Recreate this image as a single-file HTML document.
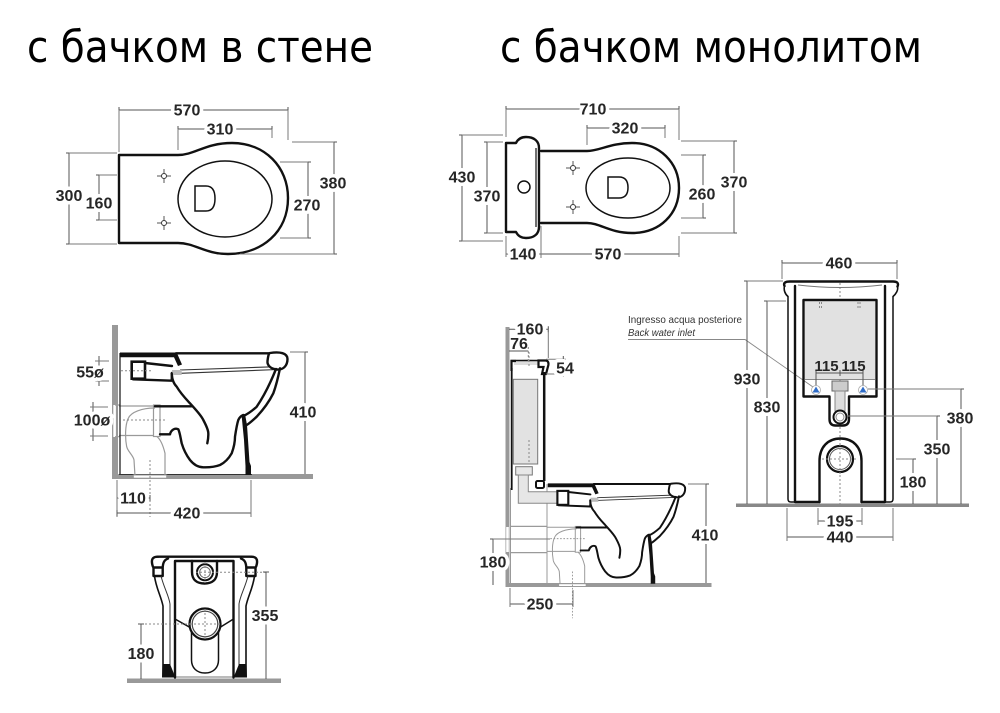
<!DOCTYPE html>
<html><head><meta charset="utf-8">
<style>
html,body{margin:0;padding:0;background:#fff;}
svg{display:block}
.t{font-family:"Liberation Sans",Arial,sans-serif;font-weight:bold;font-size:16px;fill:#262626;text-anchor:middle;paint-order:stroke;stroke:#fff;stroke-width:7px;stroke-linejoin:round}
.tn{font-family:"Liberation Sans",Arial,sans-serif;font-weight:bold;font-size:16px;fill:#262626;text-anchor:middle}
.d{stroke:#555;stroke-width:1;fill:none}
.e{stroke:#7a7a7a;stroke-width:1;fill:none}
.k{stroke:#111;stroke-width:2.4;fill:none;stroke-linejoin:round;stroke-linecap:round}
.g{stroke:#9a9a9a;stroke-width:1.2;fill:none}
.dot{stroke:#888;stroke-width:1;stroke-dasharray:2 2;fill:none}
.ttl{font-family:"DejaVu Sans","Liberation Sans",sans-serif;font-size:44px;fill:#000}
</style></head><body>
<svg width="1000" height="713" viewBox="0 0 1000 713" xmlns="http://www.w3.org/2000/svg">
<rect width="1000" height="713" fill="#fff"/>

<!-- Titles -->
<text class="ttl" x="27" y="62" textLength="346" lengthAdjust="spacingAndGlyphs">с бачком в стене</text>
<text class="ttl" x="500" y="62" textLength="422" lengthAdjust="spacingAndGlyphs">с бачком монолитом</text>

<!-- ============ TOP-LEFT PLAN ============ -->
<path class="k" stroke-width="2.6" d="M119,155 L178,155 C195,155 205,143 232,143 C265,143 288,167 288,198 C288,232 262,254 228,254 C205,254 195,243 178,243 L119,243 Z"/>
<ellipse cx="225" cy="199" rx="47" ry="38" fill="none" stroke="#111" stroke-width="1.5"/>
<path d="M195,186 L206,186 Q215,186 215,198.5 Q215,211 206,211 L195,211 Z" fill="none" stroke="#111" stroke-width="1.5"/>
<circle cx="164" cy="176" r="2.5" fill="none" stroke="#333" stroke-width="1"/>
<circle cx="164" cy="223" r="2.5" fill="none" stroke="#333" stroke-width="1"/>
<path class="d" d="M157,176h4M167,176h4M164,169v4M164,179v4M157,223h4M167,223h4M164,216v4M164,226v4"/>
<path class="d" d="M119,110H288M119,107v6M288,107v6"/>
<path class="e" d="M119,110V152M288,110V140"/>
<text class="t" x="187" y="115.5">570</text>
<path class="d" d="M178,129H272M178,126v6M272,126v6"/>
<path class="e" d="M178,129V150M272,129V138"/>
<text class="t" x="220" y="134.5">310</text>
<path class="d" d="M69,153V244M66,153h6M66,244h6"/>
<path class="e" d="M69,153H117M69,244H117"/>
<text class="t" x="69" y="201">300</text>
<path class="d" d="M99,175V220M96,175h6M96,220h6"/>
<path class="e" d="M99,175H117M99,220H117"/>
<text class="t" x="99" y="208.5">160</text>
<path class="d" d="M308,162V238M305,162h6M305,238h6"/>
<path class="e" d="M280,162H308M280,238H308"/>
<text class="t" x="307" y="210.5">270</text>
<path class="d" d="M334,142V254M331,142h6M331,254h6"/>
<path class="e" d="M292,142H334M240,254H334"/>
<text class="t" x="333" y="188.5">380</text>

<!-- ============ TOP-RIGHT PLAN ============ -->
<path class="k" stroke-width="2.6" d="M506,143 L516,143 C518,139 521,137 526,137 C534,137 539,141 539,148 L539,227 C539,234 534,238 526,238 C521,238 518,236 516,232 L506,232 Z"/>
<path d="M536,148V227" stroke="#111" stroke-width="1.2"/>
<circle cx="524" cy="187" r="6" fill="none" stroke="#111" stroke-width="1.5"/>
<path class="k" stroke-width="2.6" d="M541,151 L587,151 C600,151 610,143 632,143 C660,143 679,163 679,188 C679,214 660,233 632,233 C610,233 600,223 587,223 L541,223"/>
<ellipse cx="628" cy="188" rx="42" ry="30" fill="none" stroke="#111" stroke-width="1.5"/>
<path d="M608,177 L619,177 Q628,177 628,187.5 Q628,198 619,198 L608,198 Z" fill="none" stroke="#111" stroke-width="1.5"/>
<circle cx="573" cy="168" r="2.5" fill="none" stroke="#333" stroke-width="1"/>
<circle cx="573" cy="207" r="2.5" fill="none" stroke="#333" stroke-width="1"/>
<path class="d" d="M566,168h4M576,168h4M573,161v4M573,171v4M566,207h4M576,207h4M573,200v4M573,210v4"/>
<path class="d" d="M506,109H679M506,106v6M679,106v6"/>
<path class="e" d="M506,109V137M679,109V140"/>
<text class="t" x="593" y="114.5">710</text>
<path class="d" d="M587,128H665M587,125v6M665,125v6"/>
<path class="e" d="M587,128V145M665,128V138"/>
<text class="t" x="625" y="133.5">320</text>
<path class="d" d="M462,135V241M459,135h6M459,241h6"/>
<path class="e" d="M462,135H503M462,241H503"/>
<text class="t" x="462" y="182.5">430</text>
<path class="d" d="M487,142V233M484,142h6M484,233h6"/>
<path class="e" d="M487,142H503M487,233H503"/>
<text class="t" x="487" y="201.5">370</text>
<path class="d" d="M703,155V218M700,155h6M700,218h6"/>
<path class="e" d="M681,155H703M681,218H703"/>
<text class="t" x="702" y="199.5">260</text>
<path class="d" d="M734,141V233M731,141h6M731,233h6"/>
<path class="e" d="M681,141H734M681,233H734"/>
<text class="t" x="734" y="187.5">370</text>
<path class="d" d="M506,254H679M506,251v6M541,251v6M679,251v6"/>
<path class="e" d="M506,236V257M541,226V258M679,236V257"/>
<text class="t" x="523" y="259.5">140</text>
<text class="t" x="608" y="259.5">570</text>

<!-- ============ LEFT SIDE VIEW ============ -->
<rect x="112" y="325" width="6" height="154" fill="#999"/>
<rect x="112" y="474" width="201" height="5" fill="#999"/>
<rect x="113.3" y="405" width="2.6" height="32" fill="#fff"/>
<path class="g" d="M115,405H120M115,436.7H120"/>
<path d="M119,474.5H252" stroke="#333" stroke-width="1"/>

<g>
 <path class="g" d="M119,406H155M119,435.5H155"/>
 <rect x="153.5" y="405" width="6.5" height="31.5" fill="#fff" stroke="#999" stroke-width="1.2"/>
 <path class="g" d="M155,408C142,408 131,412 128.3,418.3C125,425 125,438 126.7,446.7C128,452 133,455 134,460L135,476"/>
 <path class="g" d="M157,436.7C160,439 163,445 165,453.3L165,476"/>
 <rect x="133.3" y="475" width="33.4" height="3.2" fill="#fff" stroke="#999" stroke-width="1"/>
 <path class="dot" d="M150,460V517M123,420H166"/>
 <path d="M120,353V474" stroke="#222" stroke-width="1.3"/>
 <path d="M120,352.5H176.7L182,364.5L178,366L174,357.3H120Z" fill="#111"/>
 <path class="k" d="M176,353.3H280"/>
 <rect x="131.7" y="361.7" width="13.3" height="17" fill="#fff" stroke="#111" stroke-width="2.6"/>
 <path class="k" d="M145,363L172,366M133,379.3L171.7,380.7L172,373"/>
 <path class="dot" d="M121,370.7H152"/>
 <path d="M180,370L276.7,366.7M180,373.3L278,369.5" stroke="#333" stroke-width="1.1" fill="none"/>
 <path d="M172,370H181.7V375H172Z" fill="#bbb"/>
 <path d="M270,353C280,351.5 287.5,353 287.5,359C287.5,366 283,370 277,369.5C271,369 267,365.5 267.5,361C268,357 268.5,353.5 270,353Z" fill="#fff" stroke="#111" stroke-width="2.4"/>
 <path class="k" stroke-width="3" d="M171.7,373.3C172,380 174,384 176.7,386.7C181,394 186,399 190,403.3C196,410 201,415 203.3,420C206.5,426 208.3,430 208.3,433.3C208.5,437 208,440 207.3,443.3"/>
 <path class="k" stroke-width="2.8" d="M155,406.3H191.7"/>
 <path class="k" stroke-width="2.8" d="M160,434.3H170C171,430 175,427.5 178.3,429.3C180,433 180.5,438 181.7,443.3C184,451 187,456 190,460C194,465 198,467.3 203.3,467.3C210,467.5 216,466.5 220,465C226,462 229,458 231.7,453.3C234,447 235,442 235,436.7C236,430 237,424 238.3,420C239.5,417 241,416 243.3,415"/>
 <path class="k" stroke-width="2.2" d="M280,368.3C278,378 276,386 273.3,393.3C268,404 262,411 256.7,416.7C253,420 250,423 246.7,425"/>
 <path class="k" stroke-width="1.8" d="M276,369C270,384 264,396 256.7,406.7C252,411 248,414 243.3,416"/>
 <path d="M241.5,414.5L245,414L247,425L249.5,462L251,466V475H245.5V466L244,440Z" fill="#111"/>
</g>

<path class="d" d="M305,352V474M302,352h6"/>
<path class="e" d="M290,352H305"/>
<text class="t" x="303" y="417.5">410</text>
<path class="d" d="M99,356V386M96,361h6M96,381h6"/>
<path class="e" d="M95,361H109M95,381H109"/>
<text class="t" x="90" y="377.5">55ø</text>
<path class="d" d="M93,402V441M90,407h6M90,436h6"/>
<path class="e" d="M90,407H108M90,436H108"/>
<text class="t" x="92" y="425.5">100ø</text>
<path class="d" d="M117,498H150M117,495v6M150,495v6"/>
<path class="e" d="M117,480V517"/>
<text class="t" x="133" y="503.5">110</text>
<path class="d" d="M117,513H251M117,510v6M251,510v6"/>
<path class="e" d="M251,480V517"/>
<text class="t" x="187" y="518.5">420</text>

<!-- ============ FRONT VIEW (lower-left) ============ -->
<rect x="127" y="678.5" width="154" height="4.5" fill="#999"/>
<path d="M175,677H233.5" stroke="#777" stroke-width="1"/>
<path class="k" stroke-width="2" d="M158,556.7H251"/>
<path class="k" stroke-width="2" d="M158,556.7C153,556.7 151.5,559 152,563C152.5,566 153,567 153.5,567.5H162.7V576H153.5V567.5M162.7,567.5C163,563 164,560 168,558.5"/>
<path class="k" stroke-width="2" d="M251,556.7C256,556.7 257.5,559 257,563C256.5,566 256,567 255.5,567.5H246.3V576H255.5V567.5M246.3,567.5C246,563 245,560 241,558.5"/>
<path fill="none" stroke="#111" stroke-width="1.6" d="M154.5,576C156,588 161,596 163,606L163,677"/>
<path fill="none" stroke="#333" stroke-width="1" d="M161,576C164,588 169,596 170,604L170,665"/>
<path fill="none" stroke="#111" stroke-width="1.6" d="M254.5,576C253,588 248,596 246,606L246,677"/>
<path fill="none" stroke="#333" stroke-width="1" d="M248,576C245,588 240,596 239,604L239,665"/>
<path d="M162.5,664L170,664L175.5,677.5L162,677.5Z" fill="#111"/>
<path d="M246.5,664L239,664L233.5,677.5L247,677.5Z" fill="#111"/>
<path class="k" d="M175,561V677.5M233.5,561V677.5M175,561H233.5"/>
<path class="k" stroke-width="2" d="M192,561V572C192,580 197,583.5 204.5,583.5C212,583.5 217,580 217,572V561"/>
<circle cx="205" cy="572.3" r="8" fill="none" stroke="#111" stroke-width="2"/>
<circle cx="205" cy="572.3" r="5.3" fill="none" stroke="#666" stroke-width="1"/>
<path fill="none" stroke="#111" stroke-width="1.5" d="M191.5,630V660C191.5,668 197,673 205,673C213,673 218.5,668 218.5,660V630"/>
<path fill="none" stroke="#111" stroke-width="1.5" d="M175,619L191,628M233.5,619L219,628"/>
<circle cx="205" cy="624" r="15.5" fill="#fff" stroke="#111" stroke-width="2.2"/>
<circle cx="205" cy="624" r="12.8" fill="none" stroke="#444" stroke-width="1.2"/>
<path class="dot" d="M190,624H220M205,609V640M205,562V583"/>
<path class="dot" d="M196,572.3H266M141,624H190"/>
<path class="d" d="M266,572V679M263,572h6"/>
<text class="t" x="265" y="621">355</text>
<path class="d" d="M141,624V679M138,624h6"/>
<text class="t" x="141" y="659">180</text>

<!-- ============ RIGHT SIDE VIEW (close-coupled) ============ -->
<rect x="505.5" y="327" width="4" height="260" fill="#999"/>
<rect x="505.5" y="583" width="206" height="4" fill="#999"/>
<rect x="506.2" y="527" width="2.6" height="25" fill="#fff"/>
<path class="g" d="M510,526.4H547M510,552.6H547"/>
<path d="M510.5,488V583" stroke="#999" stroke-width="1"/>
<path d="M547,484V583" stroke="#999" stroke-width="1"/>
<path d="M514,362Q529,357 540,362V365H514Z" fill="#ddd"/>
<path d="M510.5,360.5H547" stroke="#111" stroke-width="1.5"/>
<path fill="none" stroke="#111" stroke-width="2.2" d="M516,361H511.5V371"/>
<path d="M538.5,360.5H545.5C548.5,360.5 549,363.5 548,366.5L546,374H542L543.5,367H538.5Z" fill="#fff" stroke="#111" stroke-width="2.2"/>
<path class="dot" d="M529,352V368"/>
<path d="M511.7,368V490" stroke="#111" stroke-width="1.8"/>
<path d="M544.2,372V481" stroke="#111" stroke-width="2.5"/>
<rect x="536" y="481" width="8" height="7" rx="1.5" fill="#fff" stroke="#111" stroke-width="2"/>
<rect x="513.3" y="379.3" width="24.4" height="84.7" fill="#e2e2e2" stroke="#777" stroke-width="1"/>
<path class="dot" d="M529,440V464"/>
<rect x="515.7" y="466.7" width="16.6" height="8.3" fill="#e8e8e8" stroke="#777" stroke-width="1"/>
<path d="M518.3,475V503.3H566.7V491.7H528.3V475Z" fill="#e6e6e6" stroke="#888" stroke-width="1"/>

<g transform="translate(449.4,194.3) scale(0.82)">
 <path class="g" d="M119,406H155M119,435.5H155"/>
 <rect x="153.5" y="405" width="6.5" height="31.5" fill="#fff" stroke="#999" stroke-width="1.2"/>
 <path class="g" d="M155,408C142,408 131,412 128.3,418.3C125,425 125,438 126.7,446.7C128,452 133,455 134,460L135,476"/>
 <path class="g" d="M157,436.7C160,439 163,445 165,453.3L165,476"/>
 <rect x="133.3" y="475" width="33.4" height="3.2" fill="#fff" stroke="#999" stroke-width="1"/>
 <path class="dot" d="M150,460V517M123,420H166"/>
 <path d="M120,352.5H176.7L182,364.5L178,366L174,357.3H120Z" fill="#111"/>
 <path class="k" d="M176,353.3H280"/>
 <rect x="131.7" y="361.7" width="13.3" height="17" fill="#fff" stroke="#111" stroke-width="2.6"/>
 <path class="k" d="M145,363L172,366M133,379.3L171.7,380.7L172,373"/>
 <path d="M180,370L276.7,366.7M180,373.3L278,369.5" stroke="#333" stroke-width="1.1" fill="none"/>
 <path d="M172,370H181.7V375H172Z" fill="#bbb"/>
 <path d="M270,353C280,351.5 287.5,353 287.5,359C287.5,366 283,370 277,369.5C271,369 267,365.5 267.5,361C268,357 268.5,353.5 270,353Z" fill="#fff" stroke="#111" stroke-width="2.4"/>
 <path class="k" stroke-width="3" d="M171.7,373.3C172,380 174,384 176.7,386.7C181,394 186,399 190,403.3C196,410 201,415 203.3,420C206.5,426 208.3,430 208.3,433.3C208.5,437 208,440 207.3,443.3"/>
 <path class="k" stroke-width="2.8" d="M155,406.3H191.7"/>
 <path class="k" stroke-width="2.8" d="M160,434.3H170C171,430 175,427.5 178.3,429.3C180,433 180.5,438 181.7,443.3C184,451 187,456 190,460C194,465 198,467.3 203.3,467.3C210,467.5 216,466.5 220,465C226,462 229,458 231.7,453.3C234,447 235,442 235,436.7C236,430 237,424 238.3,420C239.5,417 241,416 243.3,415"/>
 <path class="k" stroke-width="2.2" d="M280,368.3C278,378 276,386 273.3,393.3C268,404 262,411 256.7,416.7C253,420 250,423 246.7,425"/>
 <path class="k" stroke-width="1.8" d="M276,369C270,384 264,396 256.7,406.7C252,411 248,414 243.3,416"/>
 <path d="M241.5,414.5L245,414L247,425L249.5,462L251,466V475H245.5V466L244,440Z" fill="#111"/>
</g>

<path class="d" d="M509,329.3H548.3M548.3,326.3v6"/>
<path class="e" d="M548.3,329.3V358"/>
<text class="t" x="530" y="334.5">160</text>
<path class="d" d="M509,351H528.3"/>
<path class="dot" d="M528.3,347V362"/>
<text class="tn" x="519" y="349">76</text>
<path class="e" d="M546,359.3H566M546,374H566"/>
<path class="d" d="M563.3,356V377"/>
<text class="t" x="565" y="373.5">54</text>
<path class="d" d="M706,484V583M703,484h6"/>
<path class="e" d="M688,484H706"/>
<text class="t" x="705" y="540.5">410</text>
<path class="d" d="M493,539V585M490,539h6"/>
<path class="e" d="M493,539H550"/>
<text class="t" x="493" y="567.5">180</text>
<path class="d" d="M510,604H573M510,601v6M573,601v6"/>
<path class="e" d="M510,588V607M573,590V607"/>
<text class="t" x="540" y="609.5">250</text>

<text x="628" y="323" font-family="Liberation Sans,Arial,sans-serif" font-size="10.5" fill="#333" textLength="114" lengthAdjust="spacingAndGlyphs">Ingresso acqua posteriore</text>
<text x="628" y="336" font-family="Liberation Sans,Arial,sans-serif" font-size="10.5" font-style="italic" fill="#333" textLength="67" lengthAdjust="spacingAndGlyphs">Back water inlet</text>
<path d="M628,339.5H745L813,387" fill="none" stroke="#888" stroke-width="0.9"/>

<!-- ============ FRONT VIEW (close-coupled) ============ -->
<rect x="736" y="503.5" width="233" height="3.5" fill="#888"/>
<path class="dot" d="M840,283V505"/>
<path class="k" stroke-width="2" d="M784.5,286C783,282.5 786,281.5 790,281.5H893C897,281.5 899,283 897.5,286.5"/>
<path fill="none" stroke="#111" stroke-width="1.6" d="M784.5,286C783.5,290 785,294 788,296.5M897.5,286.5C898.5,290 896,294 893,296.5"/>
<path d="M798,285Q840,290 882,285" fill="none" stroke="#777" stroke-width="1"/>
<path fill="none" stroke="#111" stroke-width="1.5" d="M788,296V499Q788,502 791,502H795M893,296V499Q893,502 890,502H885"/>
<path class="k" d="M795,286V502M885,286V502M795,502H819.5M861.5,502H885"/>
<rect x="805" y="301.5" width="70" height="78" fill="#e1e1e1"/>
<path d="M805,379.5H875" stroke="#888" stroke-width="1"/>
<path class="k" stroke-width="2.5" d="M803.5,300H876.5V396.5H849V419Q849,425.5 843,425.5H835.5Q829.5,425.5 829.5,419V396.5H803.5Z"/>
<path class="dot" d="M819.5,302V310M821.5,302V310M858,302V310M860,302V310"/>
<rect x="832" y="381" width="16" height="10" fill="#ccc" stroke="#666" stroke-width="1"/>
<rect x="835" y="391" width="10" height="20" fill="#ddd" stroke="#888" stroke-width="1"/>
<circle cx="840" cy="417" r="6.5" fill="#fff" stroke="#111" stroke-width="2"/>
<circle cx="840" cy="417" r="4" fill="none" stroke="#888" stroke-width="1"/>
<path class="d" d="M816,373H863M816,370v6M840,370v6M863,370v6M816,373V386M863,373V386"/>
<text class="tn" x="826.5" y="371" font-size="15" style="font-size:15px">115</text>
<text class="tn" x="853.5" y="371" font-size="15" style="font-size:15px">115</text>
<circle cx="816" cy="390" r="4.5" fill="#fff" stroke="#aaa" stroke-width="0.8"/>
<path d="M816,386.5L819.5,392.5H812.5Z" fill="#2f6cc7"/>
<circle cx="863" cy="390" r="4.5" fill="#fff" stroke="#aaa" stroke-width="0.8"/>
<path d="M863,386.5L866.5,392.5H859.5Z" fill="#2f6cc7"/>
<path class="k" stroke-width="2.5" d="M819.5,502V461C819.5,447 828,438.5 840.5,438.5C853,438.5 861.5,447 861.5,461V502"/>
<circle cx="840" cy="459" r="13" fill="#fff" stroke="#111" stroke-width="2.2"/>
<circle cx="840" cy="459" r="10.5" fill="none" stroke="#555" stroke-width="1"/>
<path class="dot" d="M822,459H858M840,444V474"/>
<path class="d" d="M782,263H897M782,260v6M897,260v6"/>
<path class="e" d="M782,263V279M897,263V279"/>
<text class="t" x="839" y="268.5">460</text>
<path class="d" d="M747,281V504M744,281h6"/>
<path class="e" d="M747,281H783"/>
<text class="t" x="747" y="384.5">930</text>
<path class="d" d="M767,301V504M764,301h6"/>
<path class="e" d="M767,301H786"/>
<text class="t" x="767" y="412.5">830</text>
<path class="d" d="M961,389V504M958,389h6"/>
<path class="e" d="M868,389H961"/>
<text class="t" x="960" y="423.5">380</text>
<path class="d" d="M937,416V504M934,416h6"/>
<path class="e" d="M847,416H937"/>
<text class="t" x="937" y="454.5">350</text>
<path class="d" d="M913,459V504M910,459h6"/>
<path class="e" d="M896,459H913"/>
<text class="t" x="913" y="487.5">180</text>
<path class="d" d="M818,521H862M818,518v6M862,518v6"/>
<path class="e" d="M818,508V525M862,508V525"/>
<text class="t" x="840" y="526.5">195</text>
<path class="d" d="M787,537H893M787,534v6M893,534v6"/>
<path class="e" d="M787,508V541M893,508V541"/>
<text class="t" x="840" y="542.5">440</text>
</svg>
</body></html>
